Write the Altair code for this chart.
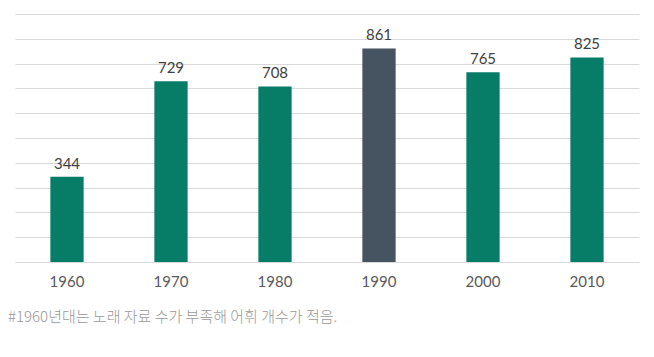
import altair as alt
import pandas as pd

decades = ["1960", "1970", "1980", "1990", "2000", "2010"]
counts = [344, 729, 708, 861, 765, 825]
highlight = ["no", "no", "no", "yes", "no", "no"]
note = "#1960년대는 노래 자료 수가 부족해 어휘 개수가 적음."

df = pd.DataFrame({"decade": decades, "count": counts, "hl": highlight})

x = alt.X("decade:N", sort=decades, title=None,
          scale=alt.Scale(paddingInner=0.68, paddingOuter=0.34),
          axis=alt.Axis(labelAngle=0, ticks=False, domain=False, labelPadding=12,
                        labelFont="Lato", labelFontSize=15, labelColor="#595959"))
y = alt.Y("count:Q", title=None,
          scale=alt.Scale(domain=[0, 1000], nice=False),
          axis=alt.Axis(values=list(range(0, 1001, 100)), labels=False, ticks=False,
                        domain=False, gridColor="#d9d9d9", gridWidth=1))

base = alt.Chart(df).encode(x=x, y=y)

bars = base.mark_bar().encode(
    color=alt.Color("hl:N", scale=alt.Scale(domain=["no", "yes"], range=["#077d68", "#465361"]), legend=None)
)
labels = base.mark_text(dy=-13, font="Lato", fontSize=15, color="#404040").encode(text="count:Q")

foot = alt.Chart(pd.DataFrame({"t": [note]})).mark_text(
    align="left", baseline="middle", font="Noto Sans CJK KR", fontSize=15, color="#999999", fontWeight=300
).encode(x=alt.value(-7), y=alt.value(303), text="t:N")

chart = alt.layer(bars, labels, foot).properties(
    width=624, height=248,
    autosize=alt.AutoSizeParams(type="none"),
    padding={"left": 7, "top": 6, "right": 7, "bottom": 87},
).configure_view(stroke=None)

chart.save("out.html", embed_options={"renderer": "svg", "actions": False})
